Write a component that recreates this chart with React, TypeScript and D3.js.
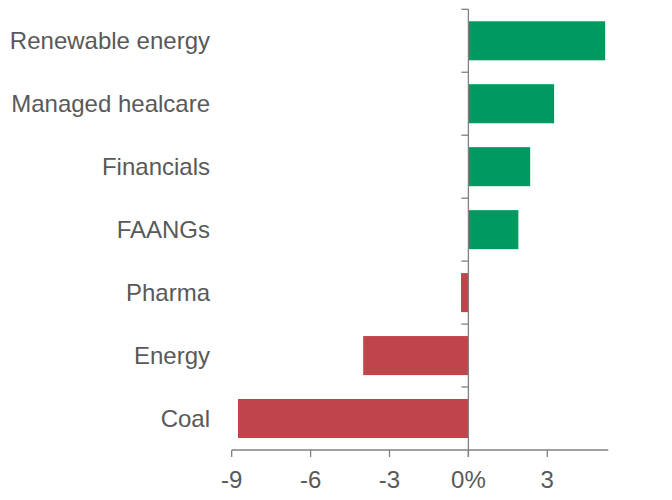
import React from "react";
import * as d3 from "d3";

const categories = [
  "Renewable energy",
  "Managed healcare",
  "Financials",
  "FAANGs",
  "Pharma",
  "Energy",
  "Coal",
];
const values = [5.2, 3.26, 2.35, 1.9, -0.28, -4.0, -8.76];
const tickValues = [-9, -6, -3, 0, 3];
const tickLabels = ["-9", "-6", "-3", "0%", "3"];

const width = 672;
const height = 500;
const GREEN = "#009A61";
const RED = "#C0454B";
const AXIS = "#808080";
const TEXT = "#595959";
const FONT = "'Liberation Sans', Arial, sans-serif";

export default function App() {
  const x = d3.scaleLinear().domain([-9, 5.32]).range([231.7, 608.3]);
  const y = d3
    .scaleBand<string>()
    .domain(categories)
    .range([9.3, 450])
    .paddingInner(0.38)
    .paddingOuter(0.19);
  const step = y.step();
  const top = 9.3;
  const x0 = x(0);
  const axisY = 450;

  return (
    <svg
      width={width}
      height={height}
      style={{ position: "absolute", left: 0, top: 0, background: "#fff" }}
      fontFamily={FONT}
    >
      {/* bars */}
      {categories.map((c, i) => {
        const v = values[i];
        const x1 = Math.min(x(0), x(v));
        const w = Math.abs(x(v) - x(0));
        return (
          <rect
            key={c}
            x={x1}
            y={y(c)}
            width={w}
            height={y.bandwidth()}
            fill={v >= 0 ? GREEN : RED}
          />
        );
      })}

      {/* category labels */}
      {categories.map((c) => (
        <text
          key={c}
          x={210}
          y={(y(c) ?? 0) + y.bandwidth() / 2}
          dy="0.35em"
          textAnchor="end"
          fontSize={24}
          fill={TEXT}
        >
          {c}
        </text>
      ))}

      {/* vertical axis */}
      <line x1={x0} x2={x0} y1={top} y2={axisY + 7} stroke={AXIS} strokeWidth={1.3} />
      {d3.range(categories.length).map((i) => (
        <line
          key={i}
          x1={x0 - 7}
          x2={x0}
          y1={top + i * step}
          y2={top + i * step}
          stroke={AXIS}
          strokeWidth={1.3}
        />
      ))}

      {/* horizontal axis */}
      <line x1={x.range()[0]} x2={x.range()[1]} y1={axisY} y2={axisY} stroke={AXIS} strokeWidth={1.3} />
      {tickValues.map((t, i) => (
        <g key={t} transform={`translate(${x(t)},${axisY})`}>
          <line y1={0} y2={7} stroke={AXIS} strokeWidth={1.3} />
          <text y={38} textAnchor="middle" fontSize={24} fill={TEXT}>
            {tickLabels[i]}
          </text>
        </g>
      ))}
    </svg>
  );
}
